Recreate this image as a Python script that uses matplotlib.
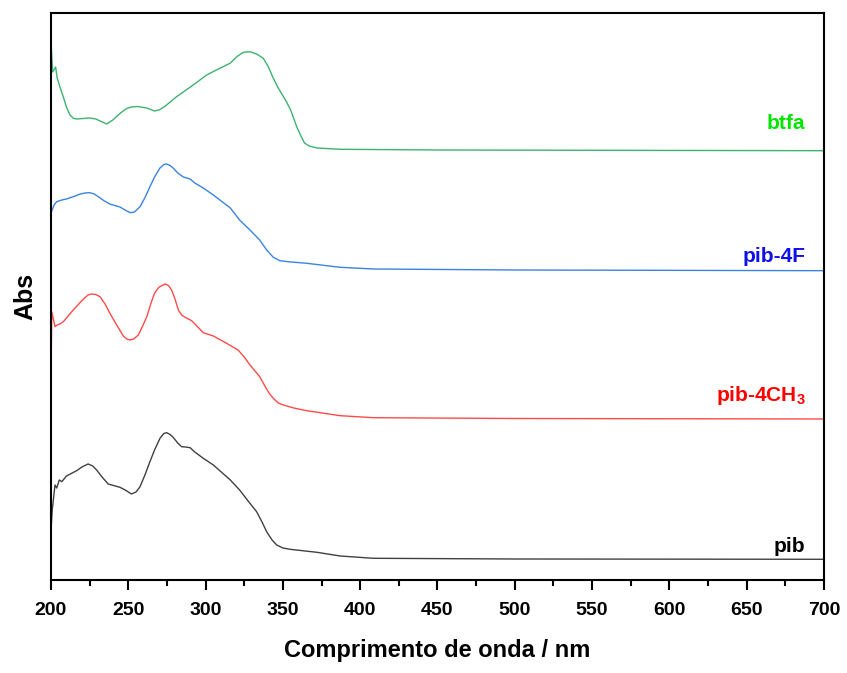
import numpy as np
import matplotlib.pyplot as plt

# UV-Vis spectra (stacked, arbitrary units)
wl_btfa = [200, 201, 203, 204, 205.8, 208, 210, 212.3, 214.4, 216.6, 225, 229, 236, 240, 245, 249, 252,
           256, 262, 267, 270, 274, 281, 292, 300.7, 307, 315.8, 320.2, 324.4, 328.7, 333, 337.3,
           340.6, 343.8, 347, 352.4, 355, 359, 362, 364, 367, 372, 387, 450, 550, 700]
abs_btfa = [5.40, 5.08, 5.13, 5.02, 4.93, 4.83, 4.73, 4.65, 4.617, 4.61, 4.62, 4.61, 4.56, 4.60, 4.67, 4.715, 4.73,
            4.735, 4.72, 4.69, 4.70, 4.74, 4.83, 4.95, 5.05, 5.10, 5.167, 5.233, 5.277, 5.283, 5.26, 5.217,
            5.133, 5.017, 4.92, 4.78, 4.70, 4.53, 4.43, 4.37, 4.34, 4.32, 4.307, 4.30, 4.297, 4.293]

wl_4f = [200, 202, 203.7, 207, 210, 214.4, 219, 222, 225, 228, 230.6, 234, 238, 244.6, 249, 251.5, 254,
         257.6, 261, 264, 267, 270.5, 273, 274.8, 277, 279, 282, 285.6, 290, 293, 298.5, 305, 316, 322,
         328.7, 335, 339.5, 343.8, 348, 355, 365.4, 387, 408.5, 500, 700]
abs_4f = [3.67, 3.75, 3.783, 3.80, 3.81, 3.833, 3.86, 3.87, 3.873, 3.86, 3.833, 3.795, 3.76, 3.73, 3.69, 3.673, 3.68,
          3.733, 3.83, 3.933, 4.03, 4.12, 4.155, 4.16, 4.145, 4.12, 4.07, 4.03, 4.01, 3.97, 3.92, 3.85, 3.72, 3.60,
          3.50, 3.40, 3.30, 3.227, 3.193, 3.18, 3.167, 3.127, 3.11, 3.10, 3.093]

wl_4ch3 = [200, 200.5, 202.6, 204, 205.8, 208, 214.4, 218, 221, 224, 226.3, 229, 231.7, 235, 238, 242.5,
           246.8, 249, 251, 253.5, 256.5, 259, 262, 264.5, 267, 270, 273.8, 276, 278, 280, 282.4, 284.5,
           286.7, 291, 295, 298.5, 305, 313.6, 321, 325, 328.7, 332, 335, 338, 341, 343.8, 347, 350.3,
           357, 365.4, 387, 408.5, 500, 700]
abs_4ch3 = [2.033, 2.683, 2.533, 2.55, 2.56, 2.583, 2.70, 2.76, 2.81, 2.85, 2.86, 2.855, 2.833, 2.76, 2.67, 2.55,
            2.44, 2.41, 2.40, 2.41, 2.45, 2.53, 2.633, 2.76, 2.87, 2.93, 2.96, 2.945, 2.90, 2.82, 2.70, 2.65,
            2.627, 2.593, 2.53, 2.473, 2.44, 2.367, 2.30, 2.23, 2.15, 2.09, 2.033, 1.95, 1.87, 1.817, 1.77, 1.75,
            1.72, 1.693, 1.643, 1.623, 1.615, 1.61]

wl_pib = [200, 200.8, 202.6, 203.7, 205.4, 207, 210, 216.6, 220, 224, 227, 229.5, 233, 237, 244.6, 248,
          252, 255, 257.6, 260.5, 264, 267, 270.5, 273, 274.8, 277, 279, 282, 284.5, 287, 290, 293, 298.5,
          305, 316, 322, 327, 333, 336.5, 339.5, 343, 346, 350, 354.6, 372, 387, 408.5, 500, 700]
abs_pib = [0.50, 0.70, 0.95, 0.92, 1.00, 0.983, 1.04, 1.093, 1.13, 1.16, 1.14, 1.10, 1.03, 0.96, 0.927, 0.90,
           0.86, 0.88, 0.933, 1.04, 1.183, 1.30, 1.417, 1.465, 1.473, 1.455, 1.427, 1.37, 1.333, 1.33, 1.323, 1.28,
           1.217, 1.15, 1.00, 0.90, 0.80, 0.683, 0.58, 0.483, 0.40, 0.35, 0.32, 0.307, 0.277, 0.24, 0.217, 0.21,
           0.207]

labels = ['btfa', 'pib-4F', r'pib-4CH$_\mathbf{3}$', 'pib']
label_y = [4.47, 3.14, 1.73, 0.24]
line_colors = ['#3cb371', '#3a84e0', '#ff4a4a', '#404040']
text_colors = ['#00e600', '#1010e8', '#ff0000', '#000000']

plt.rcParams['font.family'] = ['Liberation Sans', 'DejaVu Sans']
plt.rcParams['mathtext.fontset'] = 'custom'
plt.rcParams['mathtext.bf'] = 'Liberation Sans:bold'
plt.rcParams['mathtext.rm'] = 'Liberation Sans'

fig = plt.figure(figsize=(8.47, 6.73), dpi=100)
ax = fig.add_axes([0.0602, 0.1382, 0.9126, 0.8425])

series = [(wl_btfa, abs_btfa), (wl_4f, abs_4f), (wl_4ch3, abs_4ch3), (wl_pib, abs_pib)]
for (wl, a), c in zip(series, line_colors):
    ax.plot(wl, a, color=c, lw=1.0)

for lab, yy, c in zip(labels, label_y, text_colors):
    ax.text(688, yy, lab, color=c, fontsize=15, fontweight='bold', ha='right', va='bottom')

ax.set_xlim(200, 700)
ax.set_ylim(0, 5.67)
ax.set_xticks(np.arange(200, 701, 50))
ax.set_xticks(np.arange(225, 700, 50), minor=True)
ax.set_yticks([])
ax.tick_params(axis='x', which='major', direction='out', length=7, width=1.5, labelsize=14, pad=9)
ax.tick_params(axis='x', which='minor', direction='out', length=4, width=1.5)
for lbl in ax.get_xticklabels():
    lbl.set_fontweight('bold')
for s in ax.spines.values():
    s.set_linewidth(1.5)

ax.set_xlabel('Comprimento de onda / nm', fontsize=17, fontweight='bold', labelpad=14)
ax.set_ylabel('Abs', fontsize=18, fontweight='bold', labelpad=10)

fig.savefig('out.png', dpi=100)
